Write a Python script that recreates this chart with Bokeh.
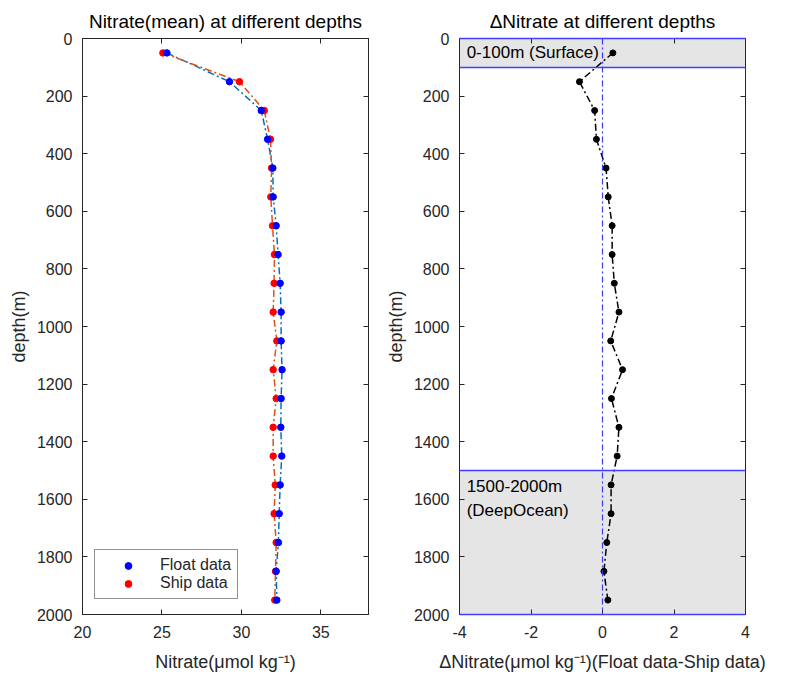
from bokeh.plotting import figure
from bokeh.layouts import row
from bokeh.models import (Range1d, FixedTicker, LinearAxis, Span, Legend, LegendItem,
                          ColumnDataSource, CustomJSTickFormatter)
from bokeh.core.properties import value
from bokeh.embed import file_html
from bokeh.resources import INLINE

# ---------------- data ----------------
depth = [50, 150, 250, 350, 450, 550, 650, 750, 850, 950,
         1050, 1150, 1250, 1350, 1450, 1550, 1650, 1750, 1850, 1950]
float_nitrate = [25.31, 29.25, 31.25, 31.65, 31.98, 32.00, 32.19, 32.31, 32.44, 32.50,
                 32.50, 32.56, 32.50, 32.48, 32.54, 32.44, 32.38, 32.33, 32.19, 32.23]
ship_nitrate = [25.06, 29.88, 31.44, 31.83, 31.90, 31.85, 31.96, 32.08, 32.06, 32.00,
                32.23, 32.00, 32.19, 32.00, 32.00, 32.13, 32.06, 32.19, 32.15, 32.10]
delta_nitrate = [0.29, -0.645, -0.22, -0.17, 0.10, 0.16, 0.27, 0.27, 0.33, 0.46,
                 0.23, 0.56, 0.25, 0.46, 0.41, 0.24, 0.24, 0.12, 0.04, 0.15]

zone_top = [0, 1500]
zone_bottom = [100, 2000]
zone_labels = ["0-100m (Surface)", "1500-2000m", "(DeepOcean)"]
zone_label_depth = [50, 1555, 1640]
zone_label_x = [-3.8, -3.8, -3.8]

depth_ticks = [0, 200, 400, 600, 800, 1000, 1200, 1400, 1600, 1800, 2000]
left_xticks = [20, 25, 30, 35]
right_xticks = [-4, -2, 0, 2, 4]

FONT = "Liberation Sans"
AXC = "#262626"


def style_axis(ax, show_labels=True):
    ax.major_tick_in = 5
    ax.major_tick_out = 0
    ax.minor_tick_line_color = None
    ax.axis_line_color = AXC
    ax.major_tick_line_color = AXC
    ax.major_label_text_font = FONT
    ax.major_label_text_color = AXC
    ax.axis_label_text_font = FONT
    ax.axis_label_text_font_style = "normal"
    ax.axis_label_text_color = AXC
    ax.major_label_text_font_size = "16px"
    ax.axis_label_text_font_size = "18px"
    if show_labels:
        ax.formatter = CustomJSTickFormatter(code="return tick.toString()")
    else:
        ax.formatter = CustomJSTickFormatter(code="return ''")
        ax.major_label_standoff = 0


def make_fig(xr, xticks, title, xlabel, border_left, border_right):
    p = figure(output_backend="svg", toolbar_location=None,
               frame_width=286, frame_height=576,
               min_border_left=border_left, min_border_right=border_right,
               min_border_top=38, min_border_bottom=58,
               x_range=Range1d(*xr), y_range=Range1d(2000, 0),
               x_axis_label=xlabel, y_axis_label="depth(m)")
    p.grid.visible = False
    p.outline_line_color = AXC
    p.background_fill_color = "white"
    p.border_fill_color = "white"
    p.title.text = title
    p.title.align = "center"
    p.title.text_font = FONT
    p.title.text_font_size = "19px"
    p.title.text_font_style = "normal"
    p.title.text_color = "black"
    p.title.standoff = 13
    p.xaxis.ticker = FixedTicker(ticks=xticks)
    p.yaxis.ticker = FixedTicker(ticks=depth_ticks)
    for ax in p.xaxis + p.yaxis:
        style_axis(ax)
    p.xaxis.major_label_standoff = 11
    p.yaxis.major_label_standoff = 10
    p.xaxis.axis_label_standoff = 11
    p.yaxis.axis_label_standoff = 5
    top = LinearAxis(ticker=FixedTicker(ticks=xticks))
    style_axis(top, False)
    p.add_layout(top, "above")
    right = LinearAxis(ticker=FixedTicker(ticks=depth_ticks))
    style_axis(right, False)
    p.add_layout(right, "right")
    return p


# ---------------- left panel ----------------
p1 = make_fig((20, 38), left_xticks, "Nitrate(mean) at different depths",
              "Nitrate(\u03bcmol kg\u207b\u00b9)", 82, 14)
src = ColumnDataSource(dict(depth=depth, f=float_nitrate, s=ship_nitrate))
p1.line("f", "depth", source=src, line_color="#0072BD", line_width=1.5, line_dash="7 3 2 3")
p1.line("s", "depth", source=src, line_color="#D95319", line_width=1.5, line_dash="7 3 2 3")
r_ship = p1.scatter("s", "depth", source=src, size=6.5, fill_color="#FF0000", line_color="#FF0000")
r_float = p1.scatter("f", "depth", source=src, size=6.5, fill_color="#0000FF", line_color="#0000FF")

legend = Legend(items=[LegendItem(label="Float data", renderers=[r_float]),
                       LegendItem(label="Ship data", renderers=[r_ship])],
                location=(12, 15))
legend.label_text_font = FONT
legend.label_text_font_size = "16px"
legend.label_text_color = AXC
legend.border_line_color = AXC
legend.glyph_width = 54
legend.glyph_height = 17
legend.label_standoff = 5
legend.spacing = 0
legend.padding = 6
legend.margin = 0
legend.label_width = 70
p1.add_layout(legend, "center")

# ---------------- right panel ----------------
p2 = make_fig((-4, 4), right_xticks, "\u0394Nitrate at different depths",
              "\u0394Nitrate(\u03bcmol kg\u207b\u00b9)(Float data-Ship data)", 69, 28)
p2.quad(left=-4, right=4, top=zone_top, bottom=zone_bottom,
        fill_color="#E5E5E5", line_color=None)
p2.hspan(y=zone_top + zone_bottom, line_color="#4040FF", line_width=1.5, level="overlay")
p2.add_layout(Span(location=0, dimension="height", line_color="#3A3AFF",
                   line_width=1.2, line_dash="6 3 2 3"))
p2.text(x=zone_label_x, y=zone_label_depth, text=zone_labels,
        text_font=value(FONT), text_font_size="17px", text_baseline="middle",
        text_align="left", text_color="black")
dsrc = ColumnDataSource(dict(depth=depth, d=delta_nitrate))
p2.line("d", "depth", source=dsrc, line_color="black", line_width=1.5, line_dash="7 3 2 3")
p2.scatter("d", "depth", source=dsrc, size=6, fill_color="black", line_color="black")

layout = row(p1, p2)
open("out.html", "w").write(file_html(layout, INLINE))
